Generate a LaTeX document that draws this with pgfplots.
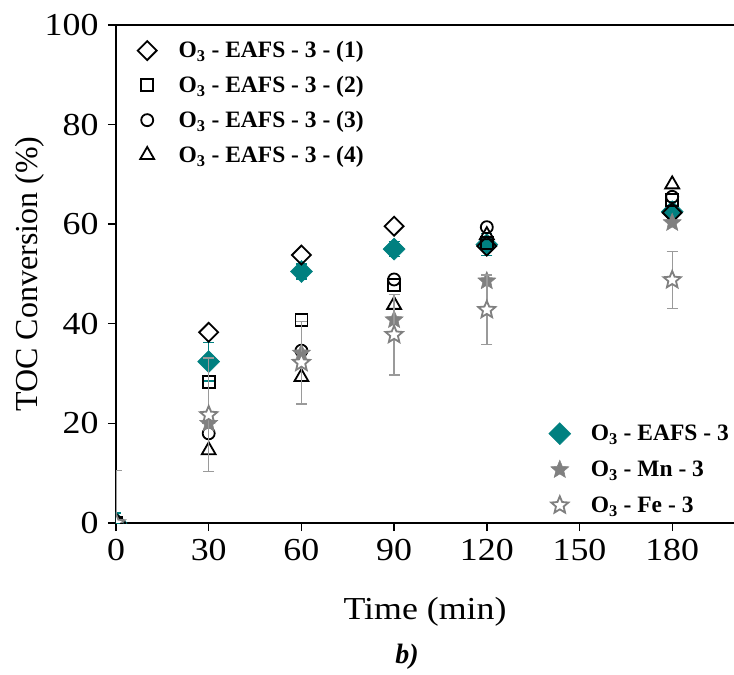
\documentclass[border=0pt]{standalone}
\usepackage{fontspec}
\setmainfont{Liberation Serif}
\newfontfamily\widefont{Liberation Serif}[FakeStretch=1.12]
\usepackage{pgfplots}
\pgfplotsset{compat=1.18}

\definecolor{tealc}{HTML}{008080}
\definecolor{grayc}{HTML}{808080}
\definecolor{errgray}{HTML}{9A9A9A}

\pgfdeclareplotmark{fstar}{%
  \pgfpathmoveto{\pgfpointpolar{90}{\pgfplotmarksize}}%
  \pgfpathlineto{\pgfpointpolar{126}{0.45\pgfplotmarksize}}%
  \pgfpathlineto{\pgfpointpolar{162}{\pgfplotmarksize}}%
  \pgfpathlineto{\pgfpointpolar{198}{0.45\pgfplotmarksize}}%
  \pgfpathlineto{\pgfpointpolar{234}{\pgfplotmarksize}}%
  \pgfpathlineto{\pgfpointpolar{270}{0.45\pgfplotmarksize}}%
  \pgfpathlineto{\pgfpointpolar{306}{\pgfplotmarksize}}%
  \pgfpathlineto{\pgfpointpolar{342}{0.45\pgfplotmarksize}}%
  \pgfpathlineto{\pgfpointpolar{18}{\pgfplotmarksize}}%
  \pgfpathlineto{\pgfpointpolar{54}{0.45\pgfplotmarksize}}%
  \pgfpathclose
  \pgfusepathqfillstroke}

\pgfplotsset{base/.style={width=618pt,height=498pt,scale only axis,
  xmin=0,xmax=200,ymin=0,ymax=100,clip marker paths=true}}

\begin{document}
\begin{tikzpicture}
% main axis: frame, ticks, labels and EAFS-3
\begin{axis}[base, name=ax,
  axis x line*=bottom, axis y line*=left,
  axis line style={line width=1.6pt},
  xtick={0,30,60,90,120,150,180}, ytick={0,20,40,60,80,100},
  tick align=outside, major tick length=8pt,
  tick style={line width=1.4pt,black},
  /pgf/number format/assume math mode=true,
  ticklabel style={font=\widefont\fontsize{32}{36}\selectfont},
  xticklabel style={yshift=-5pt},
  yticklabel style={xshift=-6pt},
  xlabel={Time (min)}, ylabel={TOC Conversion (\%)},
  label style={font=\fontsize{32}{36}\selectfont},
  xlabel style={font=\widefont\fontsize{32}{36}\selectfont,
    at={(axis description cs:0.5,-0.178)},anchor=center},
  ylabel style={at={(axis description cs:-0.139,0.5)},anchor=center},
]
\addplot[only marks, mark=square*, mark size=7.8pt,
  mark options={rotate=45, fill=tealc, draw=tealc, line width=0.5pt},
  error bars/.cd, y dir=both, y explicit,
  error bar style={tealc, line width=1.2pt},
  error mark options={tealc, rotate=90, mark size=5.5pt, line width=1.2pt}]
coordinates {(0,0) +- (0,2.0) (30,32.4) +- (0,3.9) (60,50.5) +- (0,1.5)
  (90,55.0) +- (0,1.5) (120,55.9) +- (0,2.2) (180,62.5) +- (0,2.0)};
\end{axis}

% open black series with legend 1
\begin{axis}[base, hide axis,
  legend style={at={(axis description cs:0.03,0.975)}, anchor=north west,
    draw=none, fill=none, font=\fontsize{23.5}{28}\selectfont\bfseries,
    row sep=13pt, /tikz/every odd column/.append style={column sep=20pt}},
  legend cell align=left]
\addplot[only marks, mark=square, mark size=6.7pt,
  mark options={rotate=45, draw=black, line width=1.8pt}]
coordinates {(0,0) (30,38.3) (60,53.8) (90,59.6) (120,55.6) (180,62.3)};
\addlegendentry{O\textsubscript{3} - EAFS - 3 - (1)}
\addplot[only marks, mark=square, mark size=6pt,
  mark options={draw=black, line width=1.8pt}]
coordinates {(0,0) (30,28.3) (60,40.8) (90,47.8) (120,56.3) (180,64.9)};
\addlegendentry{O\textsubscript{3} - EAFS - 3 - (2)}
\addplot[only marks, mark=o, mark size=6pt,
  mark options={draw=black, line width=1.8pt}]
coordinates {(0,0) (30,18.0) (60,34.6) (90,48.9) (120,59.4) (180,65.5)};
\addlegendentry{O\textsubscript{3} - EAFS - 3 - (3)}
\addplot[only marks, mark=triangle, mark size=8pt,
  mark options={draw=black, line width=1.8pt}]
coordinates {(0,0) (30,14.6) (60,29.3) (90,43.8) (120,57.8) (180,68.0)};
\addlegendentry{O\textsubscript{3} - EAFS - 3 - (4)}
\end{axis}

% grey stars with legend 2
\begin{axis}[base, hide axis,
  legend style={at={(axis description cs:1.0,0.01)}, anchor=south east,
    draw=none, fill=none, font=\fontsize{23.5}{28}\selectfont\bfseries,
    row sep=14.5pt, /tikz/every odd column/.append style={column sep=18pt}},
  legend cell align=left]
\addlegendimage{only marks, mark=square*, mark size=7.8pt,
  mark options={rotate=45, fill=tealc, draw=tealc}}
\addlegendentry{O\textsubscript{3} - EAFS - 3}
\addplot[only marks, mark=fstar, mark size=9.5pt,
  mark options={fill=grayc, draw=grayc, line width=0.5pt}]
coordinates {(0,0) (30,20.0) (60,34.1) (90,40.8) (120,48.6) (180,60.3)};
\addlegendentry{O\textsubscript{3} - Mn - 3}
\addplot[only marks, mark=fstar, mark size=9pt,
  mark options={fill=white, draw=grayc, line width=1.8pt},
  error bars/.cd, y dir=both, y explicit,
  error bar style={errgray, line width=1.4pt},
  error mark options={errgray, rotate=90, mark size=5.5pt, line width=1.4pt}]
coordinates {(0,0) +- (0,10.6) (30,21.7) +- (0,11.4) (60,32.2) +- (0,8.3)
  (90,37.8) +- (0,8.1) (120,42.8) +- (0,7.0) (180,48.8) +- (0,5.7)};
\addlegendentry{O\textsubscript{3} - Fe - 3}
\end{axis}

\draw[line width=1.6pt] (ax.north west) -- (ax.north east);
\node[font=\fontsize{28}{32}\selectfont\bfseries\itshape] at ([xshift=-18pt,yshift=-134pt]ax.south) {b)};

\path (ax.north west) ++(-116pt,25pt) coordinate (tl);
\path (ax.south east) ++(0pt,-152pt) coordinate (br);
\pgfresetboundingbox
\path (tl) rectangle (br);
\end{tikzpicture}
\end{document}
